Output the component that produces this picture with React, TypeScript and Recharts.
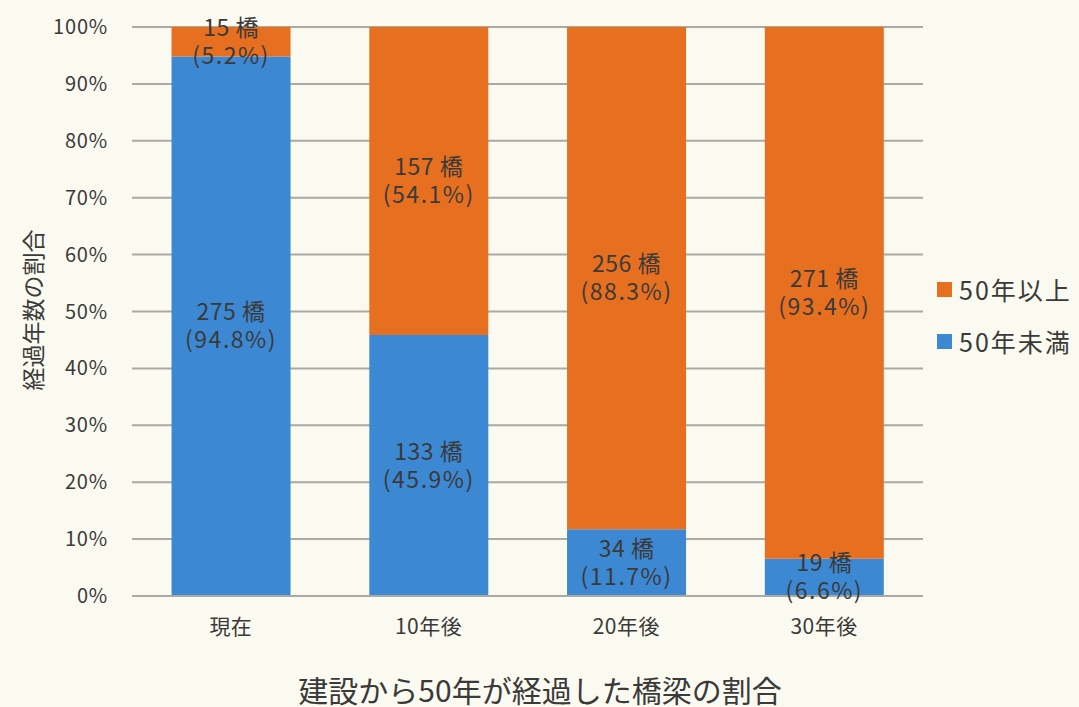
import React from 'react';
import { BarChart, Bar, XAxis, YAxis, CartesianGrid, Legend, LabelList, Label } from 'recharts';

const categories = ['現在', '10年後', '20年後', '30年後'];
const under50 = [275, 133, 34, 19];
const over50 = [15, 157, 256, 271];
const under50Pct = ['94.8', '45.9', '11.7', '6.6'];
const over50Pct = ['5.2', '54.1', '88.3', '93.4'];
const yTicks = [0, 0.1, 0.2, 0.3, 0.4, 0.5, 0.6, 0.7, 0.8, 0.9, 1];

const BLUE = '#3d88d2';
const ORANGE = '#e66f20';
const TEXT = '#3a3a3a';
const GRID = '#a9a9a6';
const BG = '#fbfaf0';
const FONT = '"Noto Sans CJK JP", "Noto Sans", sans-serif';

const data = categories.map((name, i) => ({
  name,
  under50: under50[i],
  over50: over50[i],
  under50Label: `${under50[i]} 橋|(${under50Pct[i]}%)`,
  over50Label: `${over50[i]} 橋|(${over50Pct[i]}%)`,
}));

const legendItems = [
  { label: '50年以上', color: ORANGE },
  { label: '50年未満', color: BLUE },
];

// two-line label centred in the segment
const SegmentLabel = (props: any) => {
  const { x, y, width, height, value } = props;
  const [top, bottom] = String(value).split('|');
  const cx = x + width / 2;
  const cy = y + height / 2;
  return (
    <text textAnchor="middle" fill={TEXT} fontSize={23} fontFamily={FONT}>
      <tspan x={cx} y={cy - 6} letterSpacing={0.5}>{top}</tspan>
      <tspan x={cx} y={cy + 22} letterSpacing={1.5}>{bottom}</tspan>
    </text>
  );
};

const XTick = (props: any) => {
  const { x, y, payload } = props;
  return (
    <text x={x} y={y} dy={30} textAnchor="middle" fill={TEXT} fontSize={21} fontFamily={FONT} letterSpacing={0.5}>
      {payload.value}
    </text>
  );
};

const YTick = (props: any) => {
  const { x, y, payload } = props;
  return (
    <text x={x - 16} y={y} dy={7} textAnchor="end" fill={TEXT} fontSize={20} fontFamily={FONT} letterSpacing={0.8}>
      {`${Math.round(payload.value * 100)}%`}
    </text>
  );
};

const LegendContent = () => (
  <div style={{ fontFamily: FONT, color: TEXT }}>
    {legendItems.map((item) => (
      <div key={item.label} style={{ display: 'flex', alignItems: 'center', height: 52 }}>
        <span style={{ display: 'inline-block', width: 15, height: 15, background: item.color, marginRight: 7 }} />
        <span style={{ fontSize: 25, letterSpacing: 2 }}>{item.label}</span>
      </div>
    ))}
  </div>
);

export default function App() {
  return (
    <div style={{ position: 'absolute', left: 0, top: 0, width: 1079, height: 707, background: BG }}>
      <BarChart
        width={1079}
        height={707}
        data={data}
        stackOffset="expand"
        barCategoryGap="20%"
        margin={{ top: 27, right: 14, left: 0, bottom: 81 }}
      >
        <CartesianGrid vertical={false} stroke={GRID} strokeWidth={2} />
        <XAxis dataKey="name" height={30} axisLine={{ stroke: GRID, strokeWidth: 2 }} tickLine={false} tick={<XTick />}>
          <Label
            content={() => (
              <text x={540} y={702} textAnchor="middle" fill={TEXT} fontSize={30} fontFamily={FONT}>
                建設から50年が経過した橋梁の割合
              </text>
            )}
          />
        </XAxis>
        <YAxis
          width={132}
          domain={[0, 1]}
          ticks={yTicks}
          axisLine={false}
          tickLine={false}
          tick={<YTick />}
        >
          <Label
            content={() => (
              <text
                x={32}
                y={310}
                transform="rotate(-90, 32, 310)"
                textAnchor="middle"
                dominantBaseline="central"
                fill={TEXT}
                fontSize={23}
                fontFamily={FONT}
              >
                経過年数の割合
              </text>
            )}
          />
        </YAxis>
        <Legend
          layout="vertical"
          align="right"
          verticalAlign="middle"
          content={<LegendContent />}
          wrapperStyle={{ left: 937, top: 263, width: 142, height: 104 }}
        />
        <Bar dataKey="under50" stackId="a" fill={BLUE} isAnimationActive={false}>
          <LabelList dataKey="under50Label" content={<SegmentLabel />} />
        </Bar>
        <Bar dataKey="over50" stackId="a" fill={ORANGE} isAnimationActive={false}>
          <LabelList dataKey="over50Label" content={<SegmentLabel />} />
        </Bar>
      </BarChart>
    </div>
  );
}
